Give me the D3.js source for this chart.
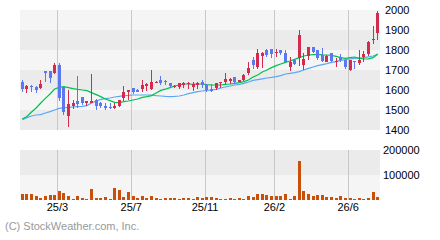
<!DOCTYPE html>
<html>
<head>
<meta charset="utf-8">
<script src="https://cdn.jsdelivr.net/npm/d3@7"></script>
<style>
  body { margin: 0; background: #fff; }
  svg { display: block; }
</style>
</head>
<body>
<div id="chart"></div>
<script>
// weekly candles
const opens  = [1641,1605,1620,1617,1608,1695,1695,1683,1725,1617,1470,1520,1547,1563,1537,1537,1548,1537,1520,1515,
                1508,1520,1560,1592,1610,1600,1603,1618,1603,1637,1650,1647,1637,1617,1617,1625,1630,1613,1625,1642,
                1625,1603,1608,1637,1640,1647,1667,1642,1650,1683,1750,1715,1772,1802,1803,1783,1800,1787,1717,1750,
                1760,1725,1772,1817,1800,1775,1742,1783,1742,1767,1750,1700,1745,1735,1766,1778,1848,1885];
const closes = [1605,1620,1613,1600,1630,1687,1662,1725,1560,1490,1530,1537,1530,1535,1547,1545,1520,1520,1508,1510,
                1520,1550,1592,1600,1590,1592,1625,1628,1642,1642,1635,1638,1620,1620,1637,1633,1637,1630,1633,1625,
                1600,1597,1637,1642,1653,1653,1642,1650,1677,1710,1725,1783,1786,1775,1779,1788,1784,1742,1742,1730,
                1875,1753,1815,1792,1762,1745,1772,1745,1745,1750,1717,1748,1738,1752,1780,1842,1853,1985];
const highs  = [1650,1625,1625,1618,1650,1697,1697,1733,1733,1620,1600,1550,1670,1567,1547,1682,1553,1540,1537,1533,
                1537,1552,1620,1600,1612,1605,1650,1633,1700,1645,1670,1650,1637,1625,1637,1642,1642,1642,1642,1650,
                1630,1630,1637,1642,1687,1658,1667,1652,1680,1740,1765,1803,1788,1803,1803,1803,1802,1800,1767,1755,
                1900,1783,1817,1817,1800,1812,1774,1783,1758,1778,1750,1750,1745,1800,1795,1845,1920,1995];
const lows   = [1592,1587,1592,1587,1603,1642,1637,1678,1545,1475,1417,1505,1510,1525,1522,1533,1500,1508,1500,1505,
                1503,1513,1545,1550,1580,1588,1590,1595,1600,1635,1625,1625,1615,1612,1605,1608,1603,1597,1607,1608,
                1592,1590,1600,1608,1630,1632,1637,1640,1645,1675,1705,1705,1708,1765,1758,1767,1775,1733,1697,1725,
                1720,1700,1752,1783,1750,1742,1740,1738,1717,1742,1705,1695,1705,1725,1740,1772,1828,1850];

// moving averages (short = green, long = light blue)
const maShort = [1455,1468,1490,1510,1535,1558,1580,1605,1613,1617,1612,1607,1603,1600,1597,1587,1577,1567,1555,1547,
                 1538,1537,1542,1545,1550,1555,1563,1567,1572,1585,1598,1604,1612,1620,1625,1630,1630,1628,1630,1630,
                 1627,1625,1625,1625,1628,1630,1633,1637,1642,1650,1665,1675,1690,1700,1712,1722,1730,1738,1745,1753,
                 1762,1770,1775,1777,1778,1776,1775,1773,1768,1762,1758,1762,1765,1758,1755,1756,1762,1780];
const maLong  = [1452,1462,1470,1475,1477,1485,1492,1500,1508,1512,1513,1515,1517,1518,1522,1535,1545,1553,1557,1560,
                 1565,1568,1572,1573,1575,1575,1575,1575,1575,1572,1570,1568,1567,1568,1570,1575,1582,1587,1592,1595,
                 1598,1600,1603,1610,1615,1620,1625,1628,1633,1640,1648,1652,1656,1660,1663,1667,1672,1680,1683,1687,
                 1692,1700,1708,1715,1722,1727,1732,1738,1742,1748,1752,1756,1758,1760,1762,1766,1770,1778];

const volumes = [24000,24000,24000,17000,9300,17000,20000,20000,36000,28000,16000,4000,16000,9300,4000,44000,9300,9300,12000,4000,
                 48000,40000,12000,32000,16000,8000,16000,8000,16000,8000,4000,8000,8000,8000,4000,8000,8000,4000,12000,8000,
                 12000,12000,8000,4000,4000,8000,4000,8000,4000,16000,12000,24000,24000,20000,16000,16000,16000,24000,4000,16000,
                 156000,36000,24000,16000,20000,20000,12000,12000,8000,16000,8000,8000,4000,8000,4000,8000,32000,12000];

// month gridlines sit on the left edge of these candles
const monthIdx = [8, 24, 40, 55, 71];
const monthLabels = ["25/3", "25/7", "25/11", "26/2", "26/6"];
const priceTicks = [1400, 1500, 1600, 1700, 1800, 1900, 2000];
const volTicks = [100000, 200000];

const W = 440, H = 240;
const left = 20, right = 380;
const priceTop = 10, priceBottom = 130;
const volTop = 150, volBottom = 200;
const font = "'Liberation Sans', Arial, sans-serif";

const svg = d3.select("#chart").append("svg")
  .attr("width", W)
  .attr("height", H);

const n = closes.length;
const x = d3.scaleLinear().domain([0, n]).range([left, right]);
const y = d3.scaleLinear().domain([1400, 2000]).range([priceBottom, priceTop]);
const yv = d3.scaleLinear().domain([0, 200000]).range([volBottom, volTop]);

// alternating background bands
const priceBands = d3.range(1400, 2000, 100);
svg.append("g").selectAll("rect")
  .data(priceBands)
  .join("rect")
  .attr("x", left)
  .attr("width", right - left)
  .attr("y", d => y(d + 100))
  .attr("height", d => y(d) - y(d + 100))
  .attr("fill", (d, i) => i % 2 === 0 ? "#ebebeb" : "#f5f5f5")
  .attr("shape-rendering", "crispEdges");

svg.append("g").selectAll("rect")
  .data([0, 100000])
  .join("rect")
  .attr("x", left)
  .attr("width", right - left)
  .attr("y", d => yv(d + 100000))
  .attr("height", d => yv(d) - yv(d + 100000))
  .attr("fill", (d, i) => i === 0 ? "#f5f5f5" : "#ebebeb")
  .attr("shape-rendering", "crispEdges");

// month gridlines
const grid = svg.append("g").attr("stroke", "#c8c8c8").attr("stroke-width", 1);
monthIdx.forEach(i => {
  const gx = Math.round(x(i)) + 0.5;
  grid.append("line").attr("x1", gx).attr("x2", gx).attr("y1", priceTop).attr("y2", priceBottom);
  grid.append("line").attr("x1", gx).attr("x2", gx).attr("y1", volTop).attr("y2", volBottom);
});

const cx = i => x(i + 0.5);

// moving averages
const line = d3.line().x((d, i) => cx(i)).y(d => y(d));
svg.append("path")
  .datum(maLong)
  .attr("fill", "none")
  .attr("stroke", "#5aa8f5")
  .attr("stroke-width", 1.2)
  .attr("d", line);
svg.append("path")
  .datum(maShort)
  .attr("fill", "none")
  .attr("stroke", "#00c050")
  .attr("stroke-width", 1.2)
  .attr("d", line);

// candles
const upColor = "#d42a4e", downColor = "#5b78f2";
const candles = svg.append("g").attr("shape-rendering", "crispEdges");
closes.forEach((c, i) => {
  const o = opens[i];
  const col = c >= o ? upColor : downColor;
  const bx = Math.round(cx(i) - 1.5);
  candles.append("line")
    .attr("x1", bx + 1.5).attr("x2", bx + 1.5)
    .attr("y1", y(highs[i])).attr("y2", y(lows[i]))
    .attr("stroke", col);
  const top = Math.round(y(Math.max(o, c)));
  const bot = Math.round(y(Math.min(o, c)));
  candles.append("rect")
    .attr("x", bx)
    .attr("y", top)
    .attr("width", 3)
    .attr("height", Math.max(1, bot - top))
    .attr("fill", col);
});

// volume bars
svg.append("g").selectAll("rect")
  .data(volumes)
  .join("rect")
  .attr("x", (d, i) => Math.round(cx(i) - 1.5))
  .attr("width", 3)
  .attr("y", d => Math.round(yv(d)))
  .attr("height", d => volBottom - Math.round(yv(d)))
  .attr("fill", "#c8500a")
  .attr("shape-rendering", "crispEdges");

// axes (labels only)
function styleAxis(g) {
  g.select(".domain").remove();
  g.selectAll("line").remove();
  g.selectAll("text").attr("fill", "#000").attr("font-size", 11).attr("font-family", font);
}

svg.append("g")
  .attr("transform", `translate(${right},0)`)
  .call(d3.axisRight(y).tickValues(priceTicks).tickSize(0).tickPadding(5).tickFormat(d3.format("d")))
  .call(styleAxis);

svg.append("g")
  .attr("transform", `translate(${right},0)`)
  .call(d3.axisRight(yv).tickValues(volTicks).tickSize(0).tickPadding(3).tickFormat(d3.format("d")))
  .call(styleAxis);

svg.append("g")
  .attr("transform", `translate(0,${volBottom})`)
  .call(d3.axisBottom(x).tickValues(monthIdx).tickSize(0).tickPadding(3)
    .tickFormat((d, k) => monthLabels[k]))
  .call(styleAxis);

svg.append("text")
  .attr("x", 5)
  .attr("y", 230)
  .attr("font-size", 11)
  .attr("font-family", font)
  .attr("fill", "#999")
  .text("(C) StockWeather.com, Inc.");
</script>
</body>
</html>
